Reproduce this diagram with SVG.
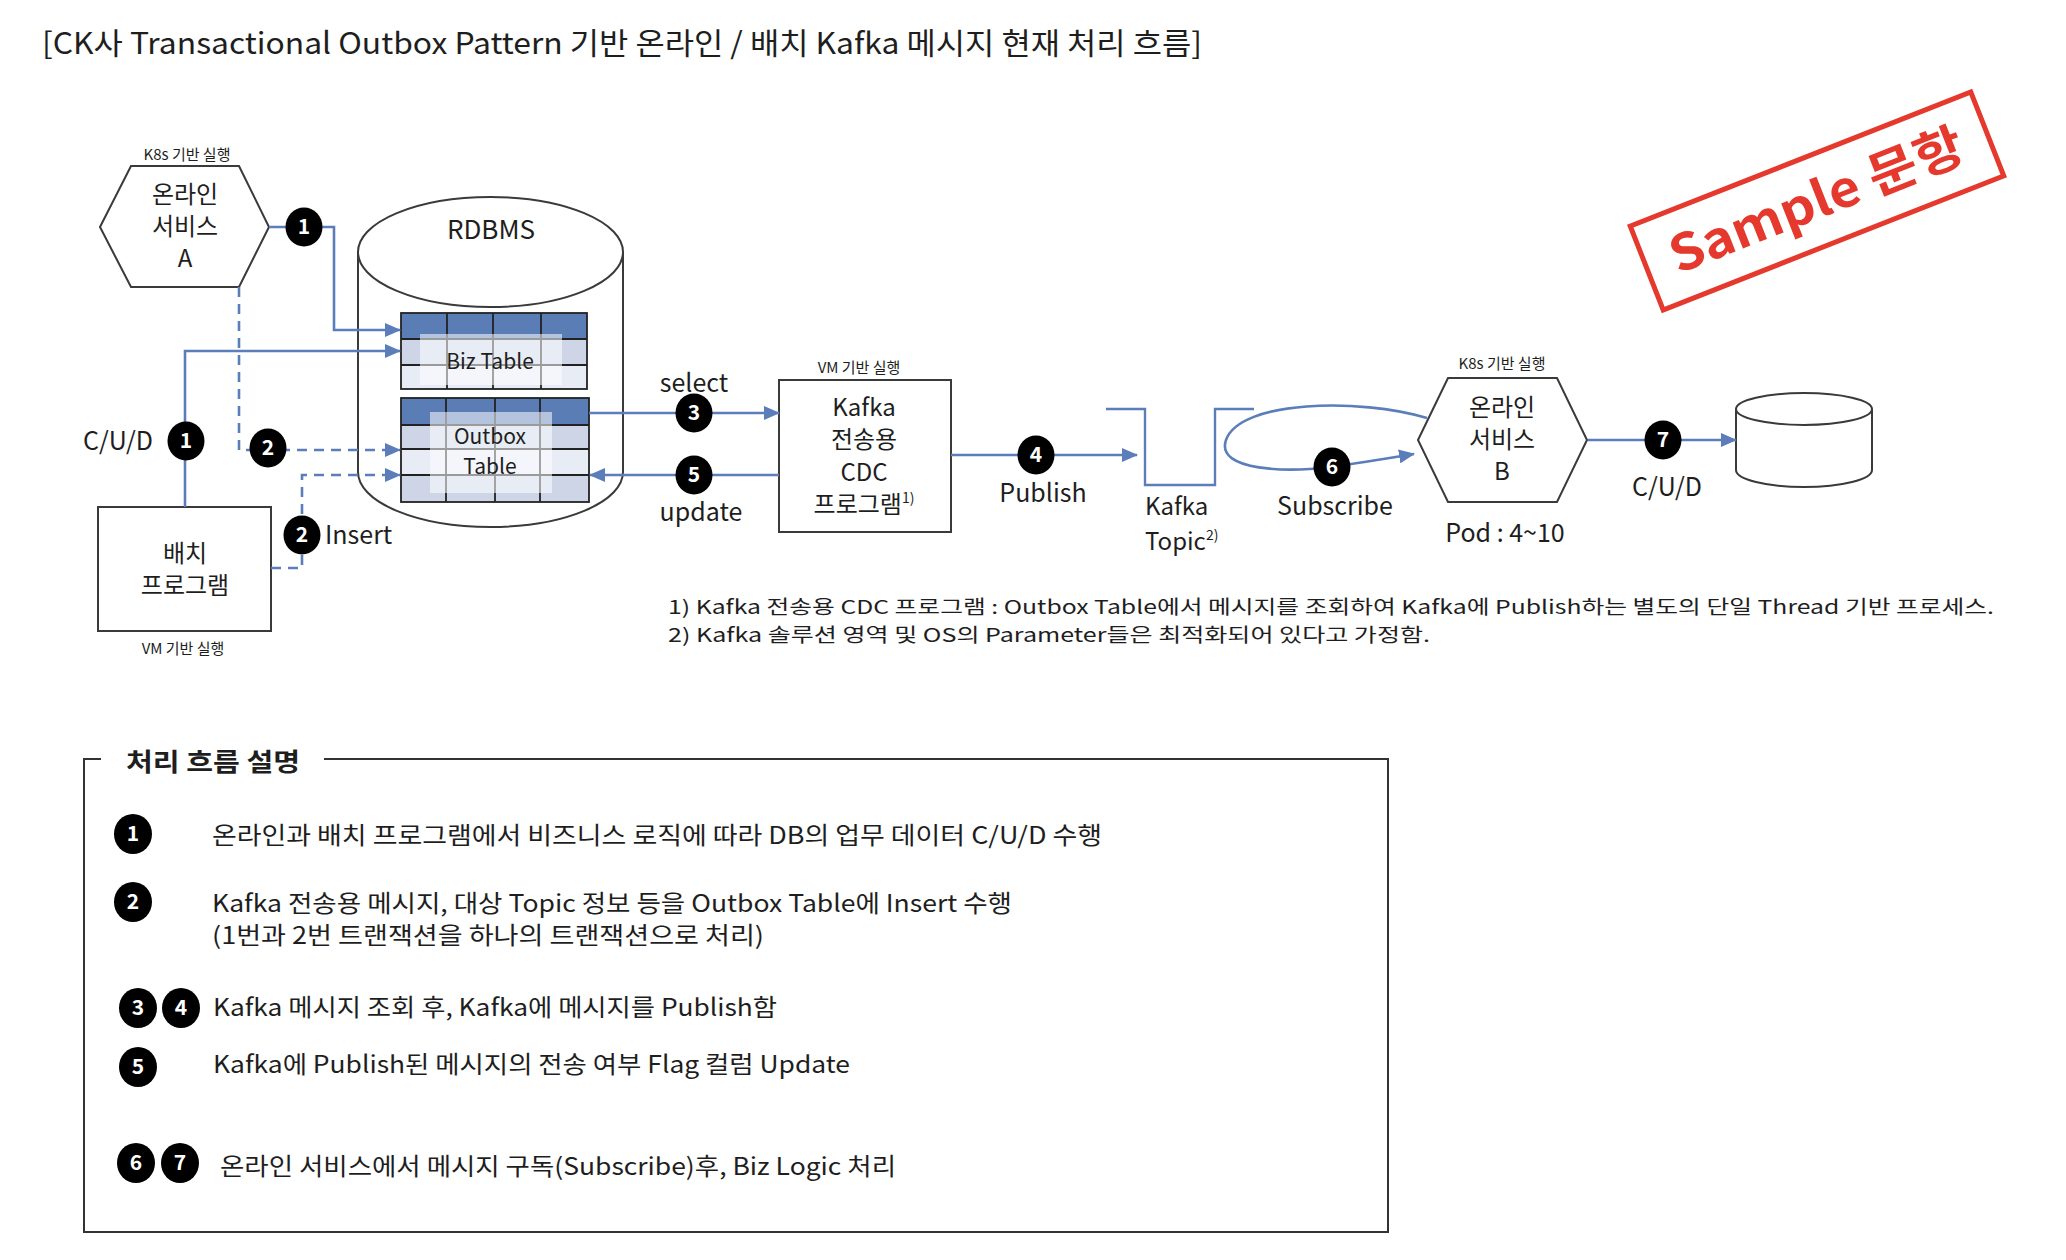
<svg xmlns="http://www.w3.org/2000/svg" width="2066" height="1260" viewBox="0 0 2066 1260">
<defs>
<style>
text{font-family:"Noto Sans CJK KR","Noto Sans",sans-serif;fill:#1e1e1e}
.t25{font-size:25px}
.t24{font-size:24px}
.sm{font-size:15px}
.mid{text-anchor:middle}
.ln{fill:none;stroke:#5B7EBB;stroke-width:2.6}
.dash{fill:none;stroke:#5B7EBB;stroke-width:2.6;stroke-dasharray:10 7}
.shape{fill:#fff;stroke:#3a3a3a;stroke-width:2}
.bd{fill:#000}
.bn{fill:#fff;font-size:21px;font-weight:bold;text-anchor:middle}
.hd{fill:#5A7DB6}
.r1{fill:#CDD5E7}
.r2{fill:#E8ECF5}
.grid{stroke:#222;stroke-width:1.8;fill:none}
.ov{fill:#fff;opacity:0.55}
.leg{font-size:24px}
</style>
<marker id="ah" viewBox="0 0 16 14" refX="15" refY="7" markerWidth="16" markerHeight="14" markerUnits="userSpaceOnUse" orient="auto"><path d="M0,0 L16,7 L0,14 z" fill="#5B7EBB"/></marker>
</defs>
<rect width="2066" height="1260" fill="#fff"/>

<text id="title" x="42" y="54" font-size="30" textLength="1160" lengthAdjust="spacingAndGlyphs">[CK사 Transactional Outbox Pattern 기반 온라인 / 배치 Kafka 메시지 현재 처리 흐름]</text>

<g id="stamp" transform="translate(1817,201) rotate(-21.5)">
<rect x="-183" y="-45" width="366" height="90" fill="none" stroke="#E5392D" stroke-width="5"/>
<text x="0" y="17" class="mid" font-size="50" font-weight="bold" style="fill:#E5392D" textLength="312" lengthAdjust="spacingAndGlyphs">Sample 문항</text>
</g>

<g id="online-a">
<text x="187" y="160" class="sm mid">K8s 기반 실행</text>
<polygon class="shape" points="100,227 131,166 239,166 269,227 239,287 131,287"/>
<text x="185" y="203" class="t24 mid">온라인</text>
<text x="185" y="235" class="t24 mid">서비스</text>
<text x="185" y="267" class="t24 mid">A</text>
</g>

<g id="batch">
<rect class="shape" x="98" y="507" width="173" height="124"/>
<text x="185" y="562" class="t24 mid">배치</text>
<text x="185" y="594" class="t24 mid">프로그램</text>
<text x="183" y="654" class="sm mid">VM 기반 실행</text>
</g>

<g id="rdbms">
<path class="shape" d="M358,252 V472 A132.5,55 0 0 0 623,472 V252"/>
<ellipse class="shape" cx="490.5" cy="252" rx="132.5" ry="55"/>
<text x="491" y="239" class="mid" font-size="26">RDBMS</text>
</g>

<g id="biz-table">
<rect class="hd" x="401" y="313" width="186" height="26"/>
<rect class="r1" x="401" y="339" width="186" height="26"/>
<rect class="r2" x="401" y="365" width="186" height="24"/>
<path class="grid" d="M401,339 H587 M401,365 H587 M447,313 V389 M493,313 V389 M541,313 V389"/>
<rect class="ov" x="420" y="334" width="142" height="51"/>
<rect class="grid" x="401" y="313" width="186" height="76"/>
<text x="490" y="369" class="mid" font-size="21">Biz Table</text>
</g>

<g id="outbox-table">
<rect class="hd" x="401" y="398" width="188" height="27"/>
<rect class="r1" x="401" y="425" width="188" height="24"/>
<rect class="r2" x="401" y="449" width="188" height="26"/>
<rect class="r1" x="401" y="475" width="188" height="27"/>
<path class="grid" d="M401,425 H589 M401,449 H589 M401,475 H589 M446,398 V502 M495,398 V502 M540,398 V502"/>
<rect class="ov" x="430" y="412" width="122" height="81"/>
<rect class="grid" x="401" y="398" width="188" height="104"/>
<text x="490" y="444" class="mid" font-size="21">Outbox</text>
<text x="490" y="474" class="mid" font-size="21">Table</text>
</g>

<g id="cdc">
<text x="859" y="373" class="sm mid">VM 기반 실행</text>
<rect class="shape" x="779" y="380" width="172" height="152"/>
<text x="864" y="416" class="t24 mid">Kafka</text>
<text x="864" y="448" class="t24 mid">전송용</text>
<text x="864" y="481" class="t24 mid">CDC</text>
<text x="864" y="513" class="t24 mid">프로그램<tspan font-size="14" dy="-10">1)</tspan></text>
</g>

<g id="kafka-topic">
<polyline points="1106,409 1145,409 1145,485 1215,485 1215,409 1254,409" fill="none" stroke="#5B7EBB" stroke-width="2.4"/>
<text x="1145" y="515" class="t24">Kafka</text>
<text x="1145" y="550" class="t24">Topic<tspan font-size="14" dy="-10">2)</tspan></text>
</g>

<g id="online-b">
<text x="1502" y="369" class="sm mid">K8s 기반 실행</text>
<polygon class="shape" points="1418,440 1448,378 1557,378 1587,440 1557,502 1448,502"/>
<text x="1502" y="416" class="t24 mid">온라인</text>
<text x="1502" y="448" class="t24 mid">서비스</text>
<text x="1502" y="480" class="t24 mid">B</text>
<text x="1505" y="542" class="t25 mid">Pod : 4~10</text>
</g>

<g id="target-db">
<path class="shape" d="M1736,409 V470 A68,17 0 0 0 1872,470 V409"/>
<ellipse class="shape" cx="1804" cy="409" rx="68" ry="16"/>
</g>

<g id="connectors">
<path class="ln" d="M269,227 H334 V330 H400" marker-end="url(#ah)"/>
<path class="ln" d="M185,507 V351 H400" marker-end="url(#ah)"/>
<path class="dash" d="M239,287 V450 H400" marker-end="url(#ah)"/>
<path class="dash" d="M271,568 H302 V475 H400" marker-end="url(#ah)"/>
<path class="ln" d="M589,413 H779" marker-end="url(#ah)"/>
<path class="ln" d="M779,475 H590" marker-end="url(#ah)"/>
<path class="ln" d="M951,455 H1137" marker-end="url(#ah)"/>
<path class="ln" d="M1427,418 C1360,398 1240,400 1226,440 C1215,472 1290,472 1330,467 C1360,463 1390,458 1414,454" marker-end="url(#ah)"/>
<path class="ln" d="M1588,440 H1736" marker-end="url(#ah)"/>
</g>

<g id="labels">
<text x="83" y="450" class="t25">C/U/D</text>
<text x="325" y="544" class="t25">Insert</text>
<text x="694" y="392" class="t25 mid">select</text>
<text x="701" y="521" class="t25 mid">update</text>
<text x="1043" y="502" class="t25 mid">Publish</text>
<text x="1335" y="515" class="t25 mid">Subscribe</text>
<text x="1667" y="496" class="t25 mid">C/U/D</text>
</g>

<g id="badges">
<ellipse class="bd" cx="304" cy="227" rx="18.5" ry="19.5"/><text class="bn" x="304" y="234">1</text>
<ellipse class="bd" cx="186" cy="441" rx="18.5" ry="19.5"/><text class="bn" x="186" y="448">1</text>
<ellipse class="bd" cx="268" cy="448" rx="18.5" ry="19.5"/><text class="bn" x="268" y="455">2</text>
<ellipse class="bd" cx="302" cy="535" rx="18.5" ry="19.5"/><text class="bn" x="302" y="542">2</text>
<ellipse class="bd" cx="694" cy="413" rx="18.5" ry="19.5"/><text class="bn" x="694" y="420">3</text>
<ellipse class="bd" cx="694" cy="475" rx="18.5" ry="19.5"/><text class="bn" x="694" y="482">5</text>
<ellipse class="bd" cx="1036" cy="455" rx="18.5" ry="19.5"/><text class="bn" x="1036" y="462">4</text>
<ellipse class="bd" cx="1332" cy="467" rx="18.5" ry="19.5"/><text class="bn" x="1332" y="474">6</text>
<ellipse class="bd" cx="1663" cy="440" rx="18.5" ry="19.5"/><text class="bn" x="1663" y="447">7</text>
</g>

<g id="footnotes">
<text x="668" y="614" font-size="19" textLength="1326" lengthAdjust="spacingAndGlyphs">1) Kafka 전송용 CDC 프로그램 : Outbox Table에서 메시지를 조회하여 Kafka에 Publish하는 별도의 단일 Thread 기반 프로세스.</text>
<text x="668" y="642" font-size="19" textLength="762" lengthAdjust="spacingAndGlyphs">2) Kafka 솔루션 영역 및 OS의 Parameter들은 최적화되어 있다고 가정함.</text>
</g>

<g id="legend">
<path d="M101,759 H84 V1232 H1388 V759 H324" fill="none" stroke="#333" stroke-width="2"/>
<text x="126" y="771" font-size="25" font-weight="bold" textLength="174" lengthAdjust="spacingAndGlyphs">처리 흐름 설명</text>
<ellipse class="bd" cx="133" cy="834" rx="19" ry="20"/><text class="bn" x="133" y="841">1</text>
<text x="212" y="844" class="leg" textLength="890" lengthAdjust="spacingAndGlyphs">온라인과 배치 프로그램에서 비즈니스 로직에 따라 DB의 업무 데이터 C/U/D 수행</text>
<ellipse class="bd" cx="133" cy="902" rx="19" ry="20"/><text class="bn" x="133" y="909">2</text>
<text x="212" y="912" class="leg" textLength="800" lengthAdjust="spacingAndGlyphs">Kafka 전송용 메시지, 대상 Topic 정보 등을 Outbox Table에 Insert 수행</text>
<text x="212" y="944" class="leg" textLength="552" lengthAdjust="spacingAndGlyphs">(1번과 2번 트랜잭션을 하나의 트랜잭션으로 처리)</text>
<ellipse class="bd" cx="138" cy="1008" rx="19" ry="20"/><text class="bn" x="138" y="1015">3</text>
<ellipse class="bd" cx="181" cy="1008" rx="19" ry="20"/><text class="bn" x="181" y="1015">4</text>
<text x="213" y="1016" class="leg" textLength="564" lengthAdjust="spacingAndGlyphs">Kafka 메시지 조회 후, Kafka에 메시지를 Publish함</text>
<ellipse class="bd" cx="138" cy="1067" rx="19" ry="20"/><text class="bn" x="138" y="1074">5</text>
<text x="213" y="1073" class="leg" textLength="637" lengthAdjust="spacingAndGlyphs">Kafka에 Publish된 메시지의 전송 여부 Flag 컬럼 Update</text>
<ellipse class="bd" cx="136" cy="1163" rx="19" ry="20"/><text class="bn" x="136" y="1170">6</text>
<ellipse class="bd" cx="180" cy="1163" rx="19" ry="20"/><text class="bn" x="180" y="1170">7</text>
<text x="220" y="1175" class="leg" textLength="676" lengthAdjust="spacingAndGlyphs">온라인 서비스에서 메시지 구독(Subscribe)후, Biz Logic 처리</text>
</g>
</svg>
